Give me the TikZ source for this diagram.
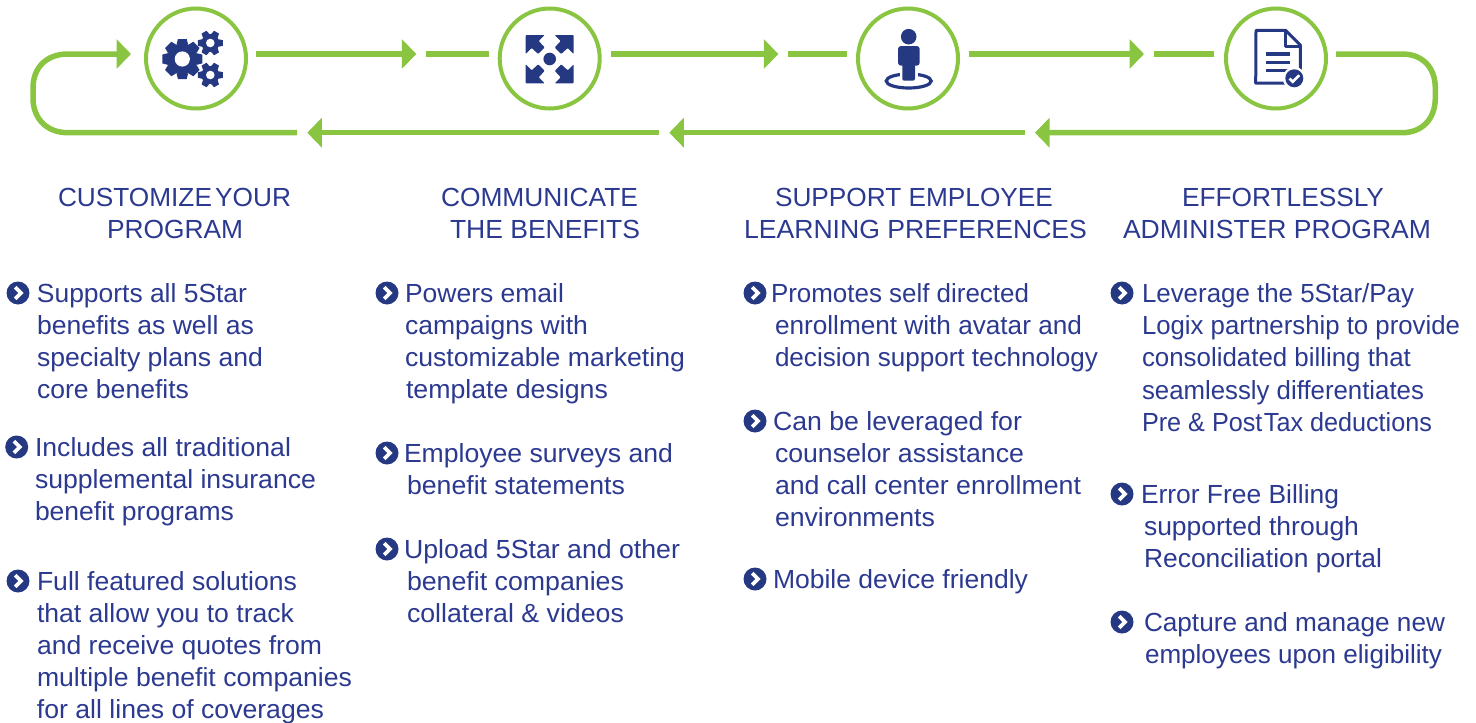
\documentclass[tikz,border=0pt]{standalone}
\usepackage{fontspec}
\usepackage{graphicx}
\setmainfont{Liberation Sans}
\usetikzlibrary{arrows.meta}
\definecolor{lgreen}{HTML}{89C541}
\definecolor{iblue}{HTML}{253882}
\definecolor{tblue}{HTML}{2B3990}
\tikzset{
  ringnode/.style={circle,draw=lgreen,line width=4pt,minimum size=100pt,inner sep=0pt},
  topline/.style={draw=lgreen,line width=6pt},
  botline/.style={draw=lgreen,line width=5.5pt},
  tipped/.style={-{Triangle[length=14.5pt,width=29pt,fill=lgreen]}},
  txt/.style={anchor=base west,inner sep=0pt,outer sep=0pt,text=tblue},
  bullet/.style={circle,fill=iblue,minimum size=23pt,inner sep=0pt},
}
\newlength\tlw
\newcommand{\tfont}{\fontsize{26.2}{32}\selectfont}
% name, left, baseline, right, text: each line is fitted to the width it has in the picture
\newcommand{\tl}[5]{%
  \node[txt] (#1) at (#2,#3) {\tfont\settowidth\tlw{#5}\pgfmathsetmacro\tlr{(#4-#2)/\tlw}\scalebox{\tlr}[1]{#5}};}
\newcommand{\bul}[3]{\node[bullet] (#1) at (#2,#3) {};
  \draw[white,line width=3.8pt,line join=miter] ([shift={(-2.8,-5.8)}]#1.center) -- ([shift={(3,0)}]#1.center) -- ([shift={(-2.8,5.8)}]#1.center);}
\newcommand{\mygear}[7]{% x y root tip toothbase toothtip teeth
  \fill[iblue] (#1,#2) circle[radius=#3];
  \foreach \i in {1,...,#7}{
    \pgfmathsetmacro\ang{360*\i/#7}
    \begin{scope}[shift={(#1,#2)},rotate=\ang]
      \fill[iblue] (#3-1,-#5) -- (#4,-#6) -- (#4,#6) -- (#3-1,#5) -- cycle;
    \end{scope}
  }
}
\newcommand{\cornerarrow}[3]{%
  \begin{scope}[shift={(#1,#2)},#3]
    \fill[iblue,rounded corners=0.8pt] (0,0) -- (19,0) -- (13,6) -- (19,12.5) -- (12.5,19) -- (6,13) -- (0,19) -- cycle;
  \end{scope}
}
\begin{document}
\begin{tikzpicture}[x=1pt,y=-1pt]
\useasboundingbox (0,0) rectangle (1476,723);
% rings
\node[ringnode] (c1) at (196,58.5) {};
\node[ringnode] (c2) at (549.7,58.5) {};
\node[ringnode] (c3) at (908,58.5) {};
\node[ringnode] (c4) at (1276,58.5) {};
% free ends of connectors
\coordinate (a1) at (256,54); \coordinate (a2) at (416.3,54);
\coordinate (b1) at (426,54); \coordinate (b2) at (489,54);
\coordinate (d1) at (611,54); \coordinate (d2) at (778.3,54);
\coordinate (e1) at (788,54); \coordinate (e2) at (847,54);
\coordinate (f1) at (969,54); \coordinate (f2) at (1144,54);
\coordinate (g1) at (1154,54); \coordinate (g2) at (1214,54);
\coordinate (h1) at (1336,54); \coordinate (h2) at (1035,132.7);
\coordinate (i1) at (1025,132.7); \coordinate (i2) at (669.3,132.7);
\coordinate (j1) at (659,132.7); \coordinate (j2) at (307.3,132.7);
\coordinate (k1) at (297,132.7); \coordinate (k2) at (131,54);
% top connectors
\path[topline,tipped] (a1) -- (a2);
\path[topline] (b1) -- (b2);
\path[topline,tipped] (d1) -- (d2);
\path[topline] (e1) -- (e2);
\path[topline,tipped] (f1) -- (f2);
\path[topline] (g1) -- (g2);
% bottom connectors
\path[botline,tipped] (i1) -- (i2);
\path[botline,tipped] (j1) -- (j2);
% loops
\draw[lgreen,line width=5.5pt,tipped] (k1) -- (68,132.7) .. controls (46,132.7) and (33,118) .. (33,98) -- (33,88) .. controls (33,68) and (46,54) .. (68,54) -- (k2);
\draw[lgreen,line width=5.5pt,tipped] (h1) -- (1402,54) .. controls (1423,54) and (1435.3,68) .. (1435.3,88) -- (1435.3,98) .. controls (1435.3,118) and (1423,132.7) .. (1402,132.7) -- (h2);
% gears
\mygear{182.3}{59}{15.5}{20}{5.8}{4.4}{8}
\fill[white] (182.3,59) circle[radius=7.6];
\mygear{210.3}{43}{9}{12.5}{3.8}{2.8}{6}
\fill[white] (210.3,43) circle[radius=4.3];
\mygear{210.3}{75}{9}{12.5}{3.8}{2.8}{6}
\fill[white] (210.3,75) circle[radius=4.3];
% expand icon
\fill[iblue] (549.7,59) circle[radius=6.3];
\cornerarrow{525.7}{35}{}
\cornerarrow{573.7}{35}{xscale=-1}
\cornerarrow{525.7}{83.3}{yscale=-1}
\cornerarrow{573.7}{83.3}{xscale=-1,yscale=-1}
% person icon
\draw[iblue,line width=3.2pt] (908.7,81) ellipse[x radius=22.5,y radius=7];
\fill[white] (899.5,66) rectangle (918,78);
\fill[iblue] (908.7,36.7) circle[radius=7.8];
\fill[iblue,rounded corners=3pt] (898,65.7) -- (898,46) -- (919.7,46) -- (919.7,65.7) -- cycle;
\fill[iblue,rounded corners=1.5pt] (902.3,60) rectangle (915,80.7);
% document icon
\draw[iblue,line width=3pt,line join=round] (1285.7,30.4) -- (1256,30.4) -- (1255.7,83) -- (1300.3,83) -- (1300.3,45) -- cycle;
\draw[iblue,line width=3pt,line join=round] (1285.7,30.4) -- (1285.7,46.5) -- (1300.3,46.5);
\draw[iblue,line width=3.2pt] (1266,54) -- (1290,54) (1266,62.3) -- (1290,62.3) (1266,70.3) -- (1290,70.3);
\fill[white] (1294.3,78.3) circle[radius=11.5];
\fill[iblue] (1294.3,78.3) circle[radius=9];
\draw[white,line width=2.6pt] (1289.5,78.5) -- (1292.8,81.8) -- (1299.2,75.2);
% titles
\tl{t1a}{58}{206}{291}{CUSTOMIZE{\spaceskip=3.2pt\relax\ }YOUR}
\tl{t1b}{107}{238}{243}{PROGRAM}
\tl{t2a}{441}{206}{638}{COMMUNICATE}
\tl{t2b}{450}{238}{640}{THE BENEFITS}
\tl{t3a}{775}{206}{1053}{SUPPORT EMPLOYEE}
\tl{t3b}{744}{238}{1087}{LEARNING PREFERENCES}
\tl{t4a}{1182}{206}{1384}{EFFORTLESSLY}
\tl{t4b}{1123}{238}{1431}{ADMINISTER PROGRAM}
% column 1
\bul{b11}{18}{293}
\tl{l1a}{37}{302}{247}{Supports all 5Star}
\tl{l1b}{37}{334}{254}{benefits as well as}
\tl{l1c}{37}{366}{263}{specialty plans and}
\tl{l1d}{37}{398}{189}{core benefits}
\bul{b12}{16.7}{447}
\tl{l1e}{35}{456}{291}{Includes all traditional}
\tl{l1f}{35}{488}{316}{supplemental insurance}
\tl{l1g}{35}{520}{234}{benefit programs}
\bul{b13}{18}{581}
\tl{l1h}{37}{590}{297}{Full featured solutions}
\tl{l1i}{37}{622}{294}{that allow you to track}
\tl{l1j}{37}{654}{322}{and receive quotes from}
\tl{l1k}{37}{686}{352}{multiple benefit companies}
\tl{l1l}{37}{718}{324}{for all lines of coverages}
% column 2
\bul{b21}{387}{293}
\tl{l2a}{405}{302}{564}{Powers email}
\tl{l2b}{405}{334}{588}{campaigns with}
\tl{l2c}{405}{366}{685}{customizable marketing}
\tl{l2d}{406}{398}{608}{template designs}
\bul{b22}{387}{453}
\tl{l2e}{404}{462}{673}{Employee surveys and}
\tl{l2f}{407}{494}{625}{benefit statements}
\bul{b23}{387}{549}
\tl{l2g}{404}{558}{680}{Upload 5Star and other}
\tl{l2h}{407}{590}{624}{benefit companies}
\tl{l2i}{407}{622}{624}{collateral \& videos}
% column 3
\bul{b31}{755}{293}
\tl{l3a}{771}{302}{1029}{Promotes self directed}
\tl{l3b}{775}{334}{1082}{enrollment with avatar and}
\tl{l3c}{775}{366}{1098}{decision support technology}
\bul{b32}{755}{421}
\tl{l3d}{773}{430}{1022}{Can be leveraged for}
\tl{l3e}{775}{462}{1024}{counselor assistance}
\tl{l3f}{775}{494}{1081}{and call center enrollment}
\tl{l3g}{775}{526}{935}{environments}
\bul{b33}{755}{579}
\tl{l3h}{773}{588}{1028}{Mobile device friendly}
% column 4
\bul{b41}{1122}{293}
\tl{l4a}{1142}{302}{1414}{Leverage the 5Star/Pay}
\tl{l4b}{1142}{334}{1460}{Logix partnership to provide}
\tl{l4c}{1142}{366}{1411}{consolidated billing that}
\tl{l4d}{1142}{399}{1424}{seamlessly differentiates}
\tl{l4e}{1142}{431}{1432}{Pre \& Post{\spaceskip=1.5pt\relax\ }Tax deductions}
\bul{b42}{1122}{494}
\tl{l4f}{1141}{503}{1339}{Error Free Billing}
\tl{l4g}{1144}{535}{1359}{supported through}
\tl{l4h}{1144}{567}{1382}{Reconciliation portal}
\bul{b43}{1122}{622}
\tl{l4i}{1144}{631}{1445}{Capture and manage new}
\tl{l4j}{1145}{663}{1442}{employees upon eligibility}
\end{tikzpicture}
\end{document}
